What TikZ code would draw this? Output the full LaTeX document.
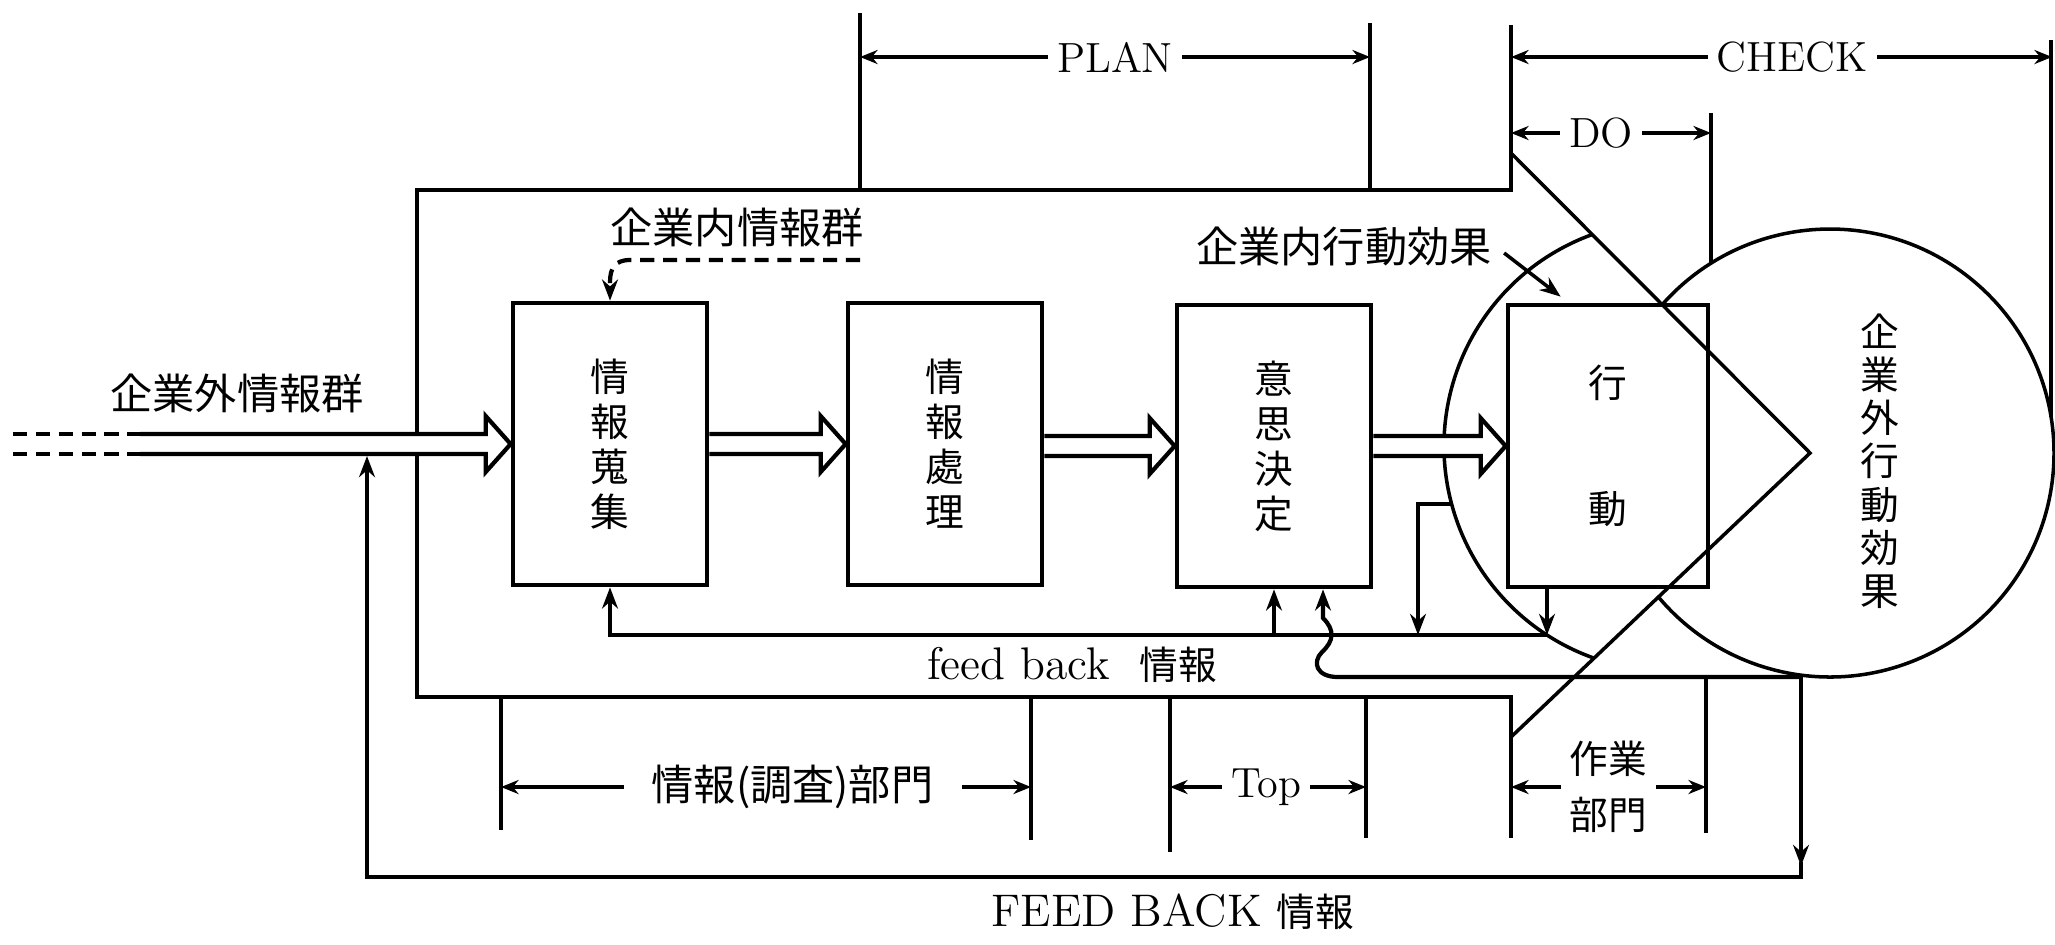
\documentclass[tikz,border=0pt]{standalone}
\usepackage{fontspec}
\newfontfamily\jp{Noto Sans CJK JP}
\usetikzlibrary{calc,arrows.meta}
\def\hollowarrow(#1)(#2){\filldraw[fill=white, line width=1.2pt] let \p1=(#1), \p2=(#2) in (\x1,\y2+0.1cm) -- (\x2-0.25cm,\y2+0.1cm) -- (\x2-0.25cm,\y2+0.28cm) -- (\x2,\y2) -- (\x2-0.25cm,\y2-0.28cm) -- (\x2-0.25cm,\y2-0.1cm) -- (\x1,\y2-0.1cm);}
\tikzset{
	blk/.style={draw, line width=1.3pt, minimum width=1.94cm, minimum height=2.82cm, inner sep=0pt, align=center, font=\jp\fontsize{11}{12.8}\selectfont},
	fbl/.style={line width=1.2pt},
	thinl/.style={line width=1pt},
	dimline/.style={line width=0.9pt, {Stealth[length=5pt,width=4pt]}-{Stealth[length=5pt,width=4pt]}},
	dimlbl/.style={fill=white, inner sep=2.5pt, font=\fontsize{12}{14}\selectfont},
	jplbl/.style={font=\jp\fontsize{12}{14}\selectfont},
	jpv/.style={align=center, font=\jp\fontsize{11}{12.3}\selectfont},
	>={Stealth[length=6pt,width=4.5pt]}
}
\begin{document}
\begin{tikzpicture}[x=0.01cm, y=-0.01cm]
			%%%%% START %%%%%
			\useasboundingbox (0,0) rectangle (2055,944);
			
			% system frame and its extension lines
			\draw[fbl] (1511,25) -- (1511,190) -- (417,190) -- (417,697) -- (1511,697) -- (1511,838);
			\draw[fbl] (860,13) -- (860,190);
			\draw[fbl] (1370,23) -- (1370,190);
			\draw[fbl] (1711,113) -- (1711,263);
			\draw[thinl] (2051,40) -- (2051,417);
			\draw[fbl] (501,697) -- (501,830);
			\draw[fbl] (1031,697) -- (1031,840);
			\draw[fbl] (1170,697) -- (1170,852);
			\draw[fbl] (1366,697) -- (1366,838);
			\draw[fbl] (1706,677) -- (1706,833);
			
			% dimension lines
			\draw[dimline] (860,57) -- node[dimlbl] {PLAN} (1370,57);
			\draw[dimline] (1511,57) -- node[dimlbl, pos=.52] {CHECK} (2052,57);
			\draw[dimline] (1511,133) -- node[dimlbl, pos=.45] {DO} (1711,133);
			\draw[dimline] (501,787) -- node[dimlbl, pos=.55, inner xsep=8pt, font=\jp\fontsize{12}{14}\selectfont] {情報(調査)部門} (1031,787);
			\draw[dimline] (1170,787) -- node[dimlbl, pos=.49] {Top} (1366,787);
			\draw[dimline] (1511,787) -- node[dimlbl, align=center, font=\jp\fontsize{11}{16}\selectfont] {作業\\部門} (1706,787);
			
			% effect circles and wedge
			\coordinate (outC) at (1830,453);
			\coordinate (inC) at (1669,446);
			\coordinate (apex) at (1810,453);
			\draw[thinl] (outC) ++(-138.5:224) arc[start angle=-138.5, end angle=140, radius=224];
			\draw[thinl] (inC) ++(250:225) arc[start angle=250, end angle=109.5, radius=225];
			\draw[thinl] (1511,153) -- (apex) -- (1511,737);
			
			% blocks
			\node[blk] (b1) at (610,444) {情\\報\\蒐\\集};
			\node[blk] (b2) at (945,444) {情\\報\\處\\理};
			\node[blk] (b3) at (1274,446) {意\\思\\決\\定};
			\node[blk, minimum width=2cm, font=\jp\fontsize{11}{36}\selectfont] (b4) at (1608,446) {行\\動};
			
			% labels
			\node[jplbl] (exinfo) at (237,393) {企業外情報群};
			\node[jplbl] (ininfo) at (737,227) {企業内情報群};
			\node[jplbl] (ineff) at (1344,246) {企業内行動効果};
			\node[jpv] (exeff) at (1880,461) {企\\業\\外\\行\\動\\効\\果};
			\node[font=\fontsize{13}{15}\selectfont] (fbin) at (1072,665) {feed back\ \ {\jp\fontsize{11}{13}\selectfont 情報}};
			\node[font=\fontsize{13}{15}\selectfont] (fbout) at (1173,912) {FEED BACK\ {\jp\fontsize{11}{13}\selectfont 情報}};
			
			% inner feed back
			\coordinate (fbA) at (1547,635);
			\coordinate (ic) at (1452,504);
			\draw[fbl, ->] (fbA) -- (b1.south |- fbA) -- (b1.south);
			\draw[fbl, ->] (b3.south |- fbA) -- (b3.south);
			\draw[fbl, ->] (fbA |- b4.south) -- (fbA);
			\draw[fbl, ->] (ic) -| ($(fbA)+(-129,0)$);
			
			% outer feed back
			\coordinate (fbR) at (1801,677);
			\coordinate (inlow) at (367,456);
			\draw[fbl, ->] (fbR) -- (1338,677) .. controls (1316,677) and (1312,662) .. (1322,652) .. controls (1334,641) and (1335,630) .. (1323,618) -- ($(b3.south)+(49,0)$);
			\draw[fbl, ->] (fbR) -- (1801,866);
			\draw[fbl, ->] (1801,862) -- (1801,877) -- (367,877) -- (inlow);
			
			% dashed and thin arrows
			\draw[fbl, dash pattern=on 4pt off 2.5pt, ->] (860,260) -- (630,260) .. controls (615,260) and (610,268) .. (610,282) -- (b1.north);
			\draw[thinl, ->] ($(ineff.east)+(0,7)$) -- ($(b4.north west)+(55,-6)$);
			
			% hollow arrows
			\coordinate (ext) at (140,444);
			\draw[thinl, dash pattern=on 4pt off 2.5pt] ($(ext)+(-127,-10)$) -- ($(ext)+(0,-10)$);
			\draw[thinl, dash pattern=on 4pt off 2.5pt] ($(ext)+(-127,10)$) -- ($(ext)+(0,10)$);
			\hollowarrow(ext)(b1.west)
			\hollowarrow(b1.east)(b2.west)
			\hollowarrow(b2.east)(b3.west)
			\hollowarrow(b3.east)(b4.west)
			
			%%%%% END %%%%%
\end{tikzpicture}
\end{document}
